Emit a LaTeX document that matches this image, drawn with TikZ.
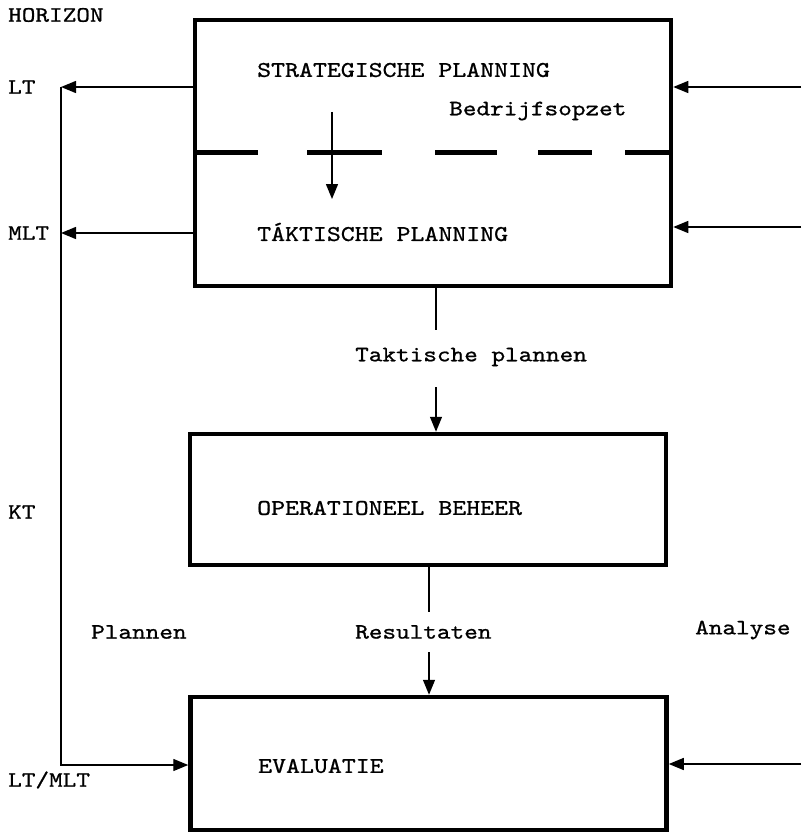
\documentclass[tikz,border=0pt]{standalone}
\usepackage{fontspec}
\setmonofont{lmmono10-regular.otf}[FakeStretch=1.18, FakeBold=0.9]
\usepackage{tikz}
\usetikzlibrary{positioning,arrows.meta}

\begin{document}
\begin{tikzpicture}[
  x=1pt, y=-1pt,
  font=\ttfamily\fontsize{22}{26}\selectfont,
  box/.style={draw, line width=4.5pt, minimum width=476pt, inner sep=0pt},
  lbl/.style={inner sep=0pt, anchor=west},
  caps/.style={lbl, font=\ttfamily\fontsize{22.5}{27}\selectfont},
  flow/.style={line width=1.4pt},
  arrow/.style={-{Triangle[length=15pt,width=12pt]}, line width=1.4pt},
  divider/.style={line width=5pt}
]
\useasboundingbox (0,0) rectangle (801,832);

% the three blocks
\node[box, minimum height=266pt] (plan) at (433,153) {};
\node[box, minimum height=131pt] (oper) at (428,499.5) {};
\node[box, minimum height=133pt] (eval) at (428.5,763.5) {};

\node[caps] (strat) at (257,70) {STRATEGISCHE PLANNING};
\node[lbl] (bedr) at (449,111) {Bedrijfsopzet};
\node[caps] (takt) at (257,232) {TÁKTISCHE PLANNING};
\node[caps] (operl) at (257,508) {OPERATIONEEL BEHEER};
\node[caps] (evall) at (258,766) {EVALUATIE};

% dashed split in the top block
\foreach \a/\b in {197/258, 307/382, 435/497, 538/592, 625/670}
  \draw[divider] (\a,152) -- (\b,152);
\coordinate (s1) at (332,112);
\coordinate (s2) at (332,199);
\draw[arrow] (s1) -- (s2);

% horizon
\node[lbl] (hor) at (8,15) {HORIZON};
\node[lbl] (hlt) at (8,87) {LT};
\node[lbl] (hmlt) at (8,233) {MLT};
\node[lbl] (hkt) at (8,512) {KT};
\node[lbl] (hltmlt) at (8,780) {LT/MLT};

\coordinate (lt) at (61,87);
\coordinate (mlt) at (61,233);
\coordinate (ltmlt) at (61,765);
\draw[arrow] (plan.west |- lt) -- (lt);
\draw[arrow] (plan.west |- mlt) -- (mlt);
\draw[arrow] (lt) -- (ltmlt) -- (eval.west |- ltmlt);

% inputs from the right
\coordinate (in1) at (801,87);
\coordinate (in2) at (801,227);
\coordinate (in3) at (801,764);
\draw[arrow] (in1) -- (plan.east |- in1);
\draw[arrow] (in2) -- (plan.east |- in2);
\draw[arrow] (in3) -- (eval.east |- in3);

% flows down the middle
\node[lbl] (tpl) at (355,357) {Taktische plannen};
\coordinate (m1) at (436,330);
\coordinate (m2) at (436,387);
\draw[flow] (plan.south -| m1) -- (m1);
\draw[arrow] (m2) -- (oper.north -| m2);

\node[lbl] (res) at (355,632) {Resultaten};
\coordinate (r1) at (429,612);
\coordinate (r2) at (429,652);
\draw[flow] (oper.south -| r1) -- (r1);
\draw[arrow] (r2) -- (eval.north -| r2);

\node[lbl] (pla) at (91,632) {Plannen};
\node[lbl] (ana) at (695,630) {Analyse};
\end{tikzpicture}
\end{document}
